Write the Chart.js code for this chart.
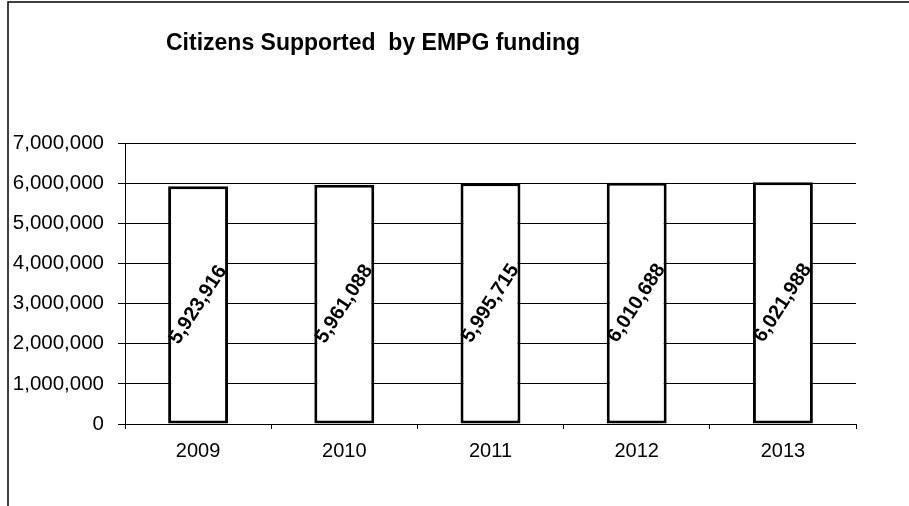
<!DOCTYPE html>
<html>
<head>
<meta charset="utf-8">
<script src="https://cdn.jsdelivr.net/npm/chart.js@4/dist/chart.umd.min.js"></script>
<style>
  html, body { margin: 0; padding: 0; background: #fff; }
  canvas { display: block; }
</style>
</head>
<body>
<canvas id="chart" width="909" height="506"></canvas>
<script>
  // Datos del gráfico
  const years = ['2009', '2010', '2011', '2012', '2013'];
  const citizens = [5923916, 5961088, 5995715, 6010688, 6021988];
  const chartTitle = 'Citizens Supported  by EMPG funding';

  const fontFamily = '"Liberation Sans", Arial, sans-serif';

  // Marco y título
  const framePlugin = {
      id: 'frame',
      afterDraw(chart) {
          const ctx = chart.ctx;
          ctx.save();
          ctx.strokeStyle = '#000';
          ctx.lineWidth = 1.5;
          ctx.beginPath();
          ctx.moveTo(8, 506);
          ctx.lineTo(8, 2);
          ctx.lineTo(909, 2);
          ctx.stroke();

          ctx.fillStyle = '#000';
          ctx.font = 'bold 23px ' + fontFamily;
          ctx.textAlign = 'left';
          ctx.textBaseline = 'middle';
          ctx.fillText(chartTitle, 166, 44);
          ctx.restore();
      }
  };

  // Etiquetas giradas dentro de cada barra
  const labelPlugin = {
      id: 'barLabels',
      afterDatasetsDraw(chart) {
          const ctx = chart.ctx;
          const meta = chart.getDatasetMeta(0);
          ctx.save();
          ctx.fillStyle = '#000';
          ctx.font = 'bold 20px ' + fontFamily;
          ctx.textAlign = 'center';
          ctx.textBaseline = 'middle';
          meta.data.forEach((bar, i) => {
              const y = (bar.y + bar.base) / 2;
              ctx.save();
              ctx.translate(bar.x, y);
              ctx.rotate(-57 * Math.PI / 180);
              ctx.fillText(citizens[i].toLocaleString('en-US'), 0, 0);
              ctx.restore();
          });
          ctx.restore();
      }
  };

  new Chart(document.getElementById('chart').getContext('2d'), {
      type: 'bar',
      data: {
          labels: years,
          datasets: [{
              data: citizens,
              backgroundColor: '#ffffff',
              borderColor: '#000000',
              borderWidth: 3,
              borderSkipped: false,
              categoryPercentage: 1,
              barPercentage: 0.41
          }]
      },
      options: {
          responsive: false,
          animation: false,
          layout: {
              padding: { top: 143, right: 53, bottom: 33, left: 0 }
          },
          plugins: {
              legend: { display: false },
              tooltip: { enabled: false }
          },
          scales: {
              x: {
                  grid: {
                      offset: true,
                      drawOnChartArea: false,
                      color: '#000',
                      tickLength: 5
                  },
                  border: { color: '#000', width: 1 },
                  ticks: {
                      color: '#000',
                      padding: 10,
                      font: { family: fontFamily, size: 20 }
                  }
              },
              y: {
                  min: 0,
                  max: 7000000,
                  afterFit: (scale) => { scale.width = 125; },
                  grid: {
                      color: '#000',
                      tickLength: 7
                  },
                  border: { color: '#000', width: 1 },
                  ticks: {
                      stepSize: 1000000,
                      color: '#000',
                      padding: 14,
                      font: { family: fontFamily, size: 20.5 },
                      callback: (v) => v.toLocaleString('en-US')
                  }
              }
          }
      },
      plugins: [framePlugin, labelPlugin]
  });
</script>
</body>
</html>
